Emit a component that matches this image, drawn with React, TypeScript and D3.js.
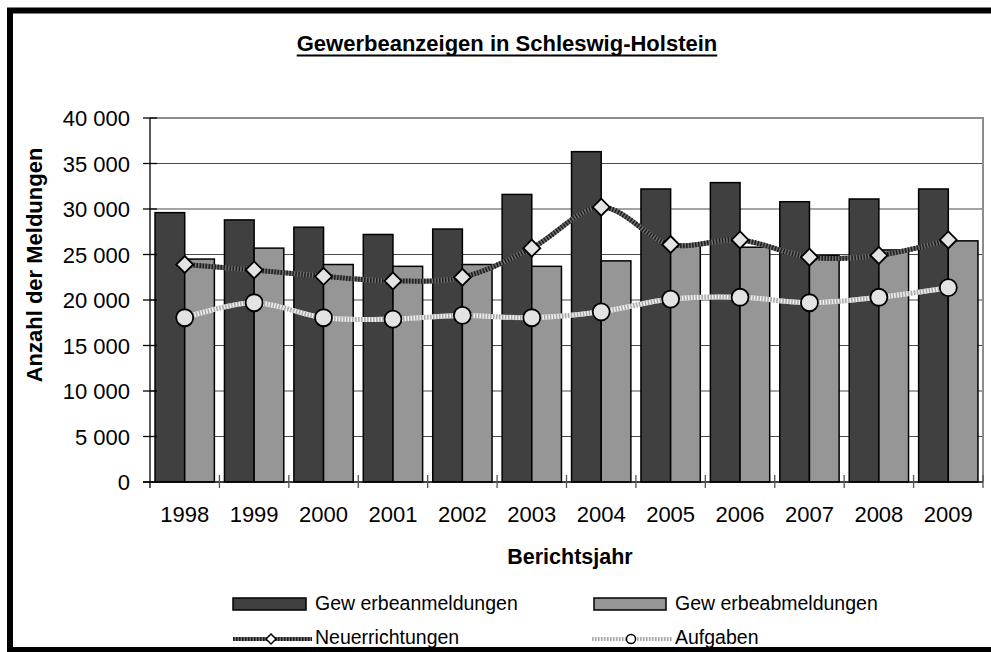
import { useEffect, useRef } from "react";
import * as d3 from "d3";

const years = ["1998", "1999", "2000", "2001", "2002", "2003", "2004", "2005", "2006", "2007", "2008", "2009"];
const anmeldungen = [29600, 28800, 28000, 27200, 27800, 31600, 36300, 32200, 32900, 30800, 31100, 32200];
const abmeldungen = [24500, 25700, 23900, 23700, 23900, 23700, 24300, 26000, 25800, 24900, 25500, 26500];
const neuerrichtungen = [23900, 23300, 22600, 22100, 22500, 25700, 30200, 26100, 26600, 24700, 24900, 26600];
const aufgaben = [18050, 19700, 18050, 17900, 18300, 18050, 18700, 20100, 20300, 19700, 20300, 21350];
const yTicks = [0, 5000, 10000, 15000, 20000, 25000, 30000, 35000, 40000];

const FONT = "'Liberation Sans', Arial, sans-serif";

export default function App() {
    const svgRef = useRef<SVGSVGElement>(null);

    useEffect(() => {
        if (!svgRef.current) return;
        const width = 991;
        const height = 652;
        const plot = { left: 150, right: 983, top: 118, bottom: 482 };

        const svg = d3.select(svgRef.current);
        svg.selectAll("*").remove();
        svg.attr("width", width).attr("height", height);

        svg.append("rect").attr("width", width).attr("height", height).attr("fill", "#fff");

        // outer frame
        svg.append("rect")
            .attr("x", 10)
            .attr("y", 10.5)
            .attr("width", 995)
            .attr("height", 639.5)
            .attr("fill", "none")
            .attr("stroke", "#000")
            .attr("stroke-width", 6);

        const x = d3.scaleBand().domain(years).range([plot.left, plot.right]).padding(0);
        const inner = d3
            .scaleBand()
            .domain(["an", "ab"])
            .range([0, x.bandwidth()])
            .paddingInner(0)
            .paddingOuter(0.17);
        const y = d3.scaleLinear().domain([0, 40000]).range([plot.bottom, plot.top]);

        const fmt = d3.formatLocale({ decimal: ",", thousands: " ", grouping: [3], currency: ["", ""] }).format(",");

        // gridlines
        svg.append("g")
            .selectAll("line")
            .data(yTicks.filter((t) => t > 0 && t < 40000))
            .enter()
            .append("line")
            .attr("x1", plot.left)
            .attr("x2", plot.right)
            .attr("y1", (d) => y(d))
            .attr("y2", (d) => y(d))
            .attr("stroke", "#4a4a4a")
            .attr("stroke-width", 1.2);

        // plot border (top, right)
        svg.append("path")
            .attr("d", `M${plot.left},${y(40000)}H${plot.right}V${plot.bottom}`)
            .attr("fill", "none")
            .attr("stroke", "#8c8c8c")
            .attr("stroke-width", 2);

        // bars
        const bars = svg.append("g").attr("stroke", "#000").attr("stroke-width", 1.5);
        years.forEach((yr, i) => {
            const x0 = x(yr)!;
            bars.append("rect")
                .attr("x", x0 + inner("an")!)
                .attr("y", y(anmeldungen[i]))
                .attr("width", inner.bandwidth())
                .attr("height", y(0) - y(anmeldungen[i]))
                .attr("fill", "#404040");
            bars.append("rect")
                .attr("x", x0 + inner("ab")!)
                .attr("y", y(abmeldungen[i]))
                .attr("width", inner.bandwidth())
                .attr("height", y(0) - y(abmeldungen[i]))
                .attr("fill", "#969696");
        });

        // axes
        const axes = svg.append("g").attr("stroke", "#000").attr("stroke-width", 1.3);
        axes.append("line").attr("x1", plot.left).attr("x2", plot.left).attr("y1", plot.top).attr("y2", plot.bottom + 6);
        axes.append("line").attr("x1", plot.left - 7).attr("x2", plot.right).attr("y1", plot.bottom).attr("y2", plot.bottom);
        yTicks.forEach((t) => {
            axes.append("line")
                .attr("x1", plot.left - 7)
                .attr("x2", plot.left + 7)
                .attr("y1", y(t))
                .attr("y2", y(t));
        });
        years.forEach((yr) => {
            const bx = x(yr)! + x.bandwidth();
            axes.append("line")
                .attr("x1", bx)
                .attr("x2", bx)
                .attr("y1", plot.bottom - 7)
                .attr("y2", plot.bottom + 6)
                .attr("stroke", "#555");
        });

        // y tick labels
        svg.append("g")
            .selectAll("text")
            .data(yTicks)
            .enter()
            .append("text")
            .attr("x", 130)
            .attr("y", (d) => y(d) + 8)
            .attr("text-anchor", "end")
            .attr("font-family", FONT)
            .attr("font-size", "22px")
            .attr("fill", "#000")
            .text((d) => fmt(d));

        // x tick labels
        svg.append("g")
            .selectAll("text")
            .data(years)
            .enter()
            .append("text")
            .attr("x", (d) => x(d)! + x.bandwidth() / 2)
            .attr("y", 522)
            .attr("text-anchor", "middle")
            .attr("font-family", FONT)
            .attr("font-size", "22px")
            .attr("fill", "#000")
            .text((d) => d);

        // lines
        const cx = (i: number) => x(years[i])! + x.bandwidth() / 2;
        const line = d3
            .line<number>()
            .x((d, i) => cx(i))
            .y((d) => y(d))
            .curve(d3.curveCatmullRom.alpha(0.5));

        const drawHatched = (g: any, d: string, base: string, dots: string, w: number) => {
            g.append("path").attr("d", d).attr("fill", "none").attr("stroke", base).attr("stroke-width", w);
            g.append("path")
                .attr("d", d)
                .attr("fill", "none")
                .attr("stroke", dots)
                .attr("stroke-width", w)
                .attr("stroke-dasharray", "1.5,1.5");
        };

        const lines = svg.append("g");
        drawHatched(lines, line(neuerrichtungen)!, "#6e6e6e", "#1e1e1e", 5);
        drawHatched(lines, line(aufgaben)!, "#f0f0f0", "#a8a8a8", 5);

        const diamond = (px: number, py: number, r: number) =>
            `M${px},${py - r}L${px + r},${py}L${px},${py + r}L${px - r},${py}Z`;

        svg.append("g")
            .selectAll("path")
            .data(neuerrichtungen)
            .enter()
            .append("path")
            .attr("d", (d, i) => diamond(cx(i), y(d), 8.5))
            .attr("fill", "#e3e3e3")
            .attr("stroke", "#000")
            .attr("stroke-width", 1.8);

        svg.append("g")
            .selectAll("circle")
            .data(aufgaben)
            .enter()
            .append("circle")
            .attr("cx", (d, i) => cx(i))
            .attr("cy", (d) => y(d))
            .attr("r", 8.5)
            .attr("fill", "#e3e3e3")
            .attr("stroke", "#000")
            .attr("stroke-width", 1.8);

        // title
        const title = svg
            .append("text")
            .attr("x", 507)
            .attr("y", 51)
            .attr("text-anchor", "middle")
            .attr("font-family", FONT)
            .attr("font-size", "22px")
            .attr("font-weight", "bold")
            .text("Gewerbeanzeigen in Schleswig-Holstein");
        const tb = (title.node() as SVGTextElement).getBBox();
        svg.append("line")
            .attr("x1", tb.x)
            .attr("x2", tb.x + tb.width)
            .attr("y1", 55.5)
            .attr("y2", 55.5)
            .attr("stroke", "#000")
            .attr("stroke-width", 2);

        // axis titles
        svg.append("text")
            .attr("transform", "translate(42,265) rotate(-90)")
            .attr("text-anchor", "middle")
            .attr("font-family", FONT)
            .attr("font-size", "22px")
            .attr("font-weight", "bold")
            .text("Anzahl der Meldungen");

        svg.append("text")
            .attr("x", 570)
            .attr("y", 564)
            .attr("text-anchor", "middle")
            .attr("font-family", FONT)
            .attr("font-size", "21.5px")
            .attr("font-weight", "bold")
            .text("Berichtsjahr");

        // legend
        const legend = svg.append("g").attr("font-family", FONT).attr("font-size", "19.5px");
        legend.append("rect").attr("x", 233).attr("y", 598).attr("width", 73).attr("height", 12)
            .attr("fill", "#404040").attr("stroke", "#000").attr("stroke-width", 1.5);
        legend.append("text").attr("x", 315).attr("y", 610).text("Gew erbeanmeldungen");
        legend.append("rect").attr("x", 594).attr("y", 598).attr("width", 72).attr("height", 12)
            .attr("fill", "#969696").attr("stroke", "#000").attr("stroke-width", 1.5);
        legend.append("text").attr("x", 675).attr("y", 610).text("Gew erbeabmeldungen");

        drawHatched(legend, "M233,639H312", "#6e6e6e", "#1e1e1e", 4);
        legend.append("path").attr("d", diamond(271, 639, 5)).attr("fill", "#fff").attr("stroke", "#000").attr("stroke-width", 1.5);
        legend.append("text").attr("x", 315).attr("y", 644).text("Neuerrichtungen");

        drawHatched(legend, "M592,639H672", "#f0f0f0", "#a8a8a8", 4);
        legend.append("circle").attr("cx", 631).attr("cy", 639).attr("r", 4.5).attr("fill", "#fff").attr("stroke", "#000").attr("stroke-width", 1.5);
        legend.append("text").attr("x", 675).attr("y", 644).text("Aufgaben");
    }, []);

    return (
        <div style={{ position: "absolute", left: 0, top: 0, width: 991, height: 652, overflow: "hidden" }}>
            <svg ref={svgRef} style={{ display: "block" }}></svg>
        </div>
    );
}
